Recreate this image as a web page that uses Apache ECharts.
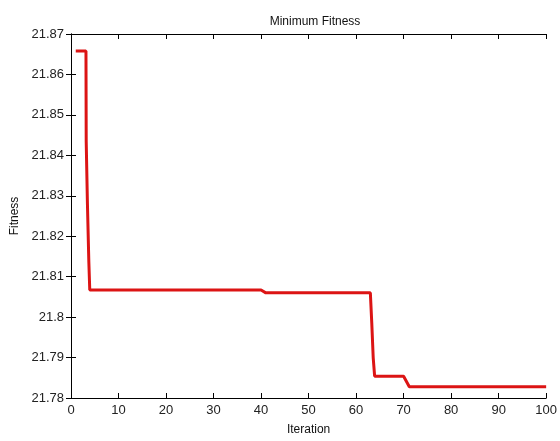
<!DOCTYPE html>
<html>
<head>
<meta charset="utf-8">
<script src="https://cdn.jsdelivr.net/npm/echarts@6/dist/echarts.min.js"></script>
<style>html,body{margin:0;padding:0;background:#fff}#c{width:560px;height:441px}</style>
</head>
<body>
<div id="c"></div>
<script>
// Data
var iterations = [1, 3.15, 3.2, 3.45, 3.75, 3.95, 40.0, 41.0, 63.0, 63.3, 63.6, 63.9, 70.0, 71.2, 100];
var fitness    = [21.8658, 21.8658, 21.8435, 21.8284, 21.8138, 21.8067, 21.8067, 21.8060, 21.8060, 21.7985, 21.7900, 21.7854, 21.7854, 21.7828, 21.7828];
var xTicks = {min: 0, max: 100, step: 10};
var yTicks = {min: 21.78, max: 21.87, step: 0.01};
var titleText = 'Minimum Fitness';
var xName = 'Iteration';
var yName = 'Fitness';

var pts = iterations.map(function (x, i) { return [x, fitness[i]]; });
var font = 'Liberation Sans, Arial, sans-serif';
var chart = echarts.init(document.getElementById('c'), null, {renderer: 'canvas'});
function fmt(v) { return String(parseFloat(v.toFixed(2))); }
var axLine = {show: true, lineStyle: {color: '#000', width: 1}};
var tick = {show: true, inside: true, length: 5, lineStyle: {color: '#000', width: 1}};
chart.setOption({
  animation: false,
  backgroundColor: '#fff',
  title: {text: titleText, left: 310, top: 11, textAlign: 'center',
    textStyle: {fontFamily: font, fontSize: 12, fontWeight: 'normal', color: '#111'}},
  grid: {left: 71, right: 12, top: 34, bottom: 37, containLabel: false},
  xAxis: [
    {type: 'value', min: xTicks.min, max: xTicks.max, interval: xTicks.step, position: 'bottom',
     name: xName, nameLocation: 'middle', nameGap: 26,
     nameTextStyle: {fontFamily: font, fontSize: 12, color: '#111'},
     axisLine: axLine, axisTick: tick, splitLine: {show: false},
     axisLabel: {fontFamily: font, fontSize: 13, color: '#222', margin: 6}},
    {type: 'value', min: xTicks.min, max: xTicks.max, interval: xTicks.step, position: 'top',
     axisLine: axLine, axisTick: tick, splitLine: {show: false}, axisLabel: {show: false}}
  ],
  yAxis: [
    {type: 'value', min: yTicks.min, max: yTicks.max, interval: yTicks.step, position: 'left',
     name: yName, nameLocation: 'middle', nameGap: 49, nameRotate: 90,
     nameTextStyle: {fontFamily: font, fontSize: 12, color: '#111'},
     axisLine: axLine, axisTick: tick, splitLine: {show: false},
     axisLabel: {fontFamily: font, fontSize: 13, color: '#222', margin: 7, formatter: fmt}},
    {type: 'value', min: yTicks.min, max: yTicks.max, interval: yTicks.step, position: 'right',
     axisLine: axLine, axisTick: tick, splitLine: {show: false}, axisLabel: {show: false}}
  ],
  series: [{
    type: 'line', data: pts, xAxisIndex: 0, yAxisIndex: 0, showSymbol: false, symbol: 'none',
    lineStyle: {color: '#dc1414', width: 3}, itemStyle: {color: '#dc1414'}
  }]
});
</script>
</body>
</html>
